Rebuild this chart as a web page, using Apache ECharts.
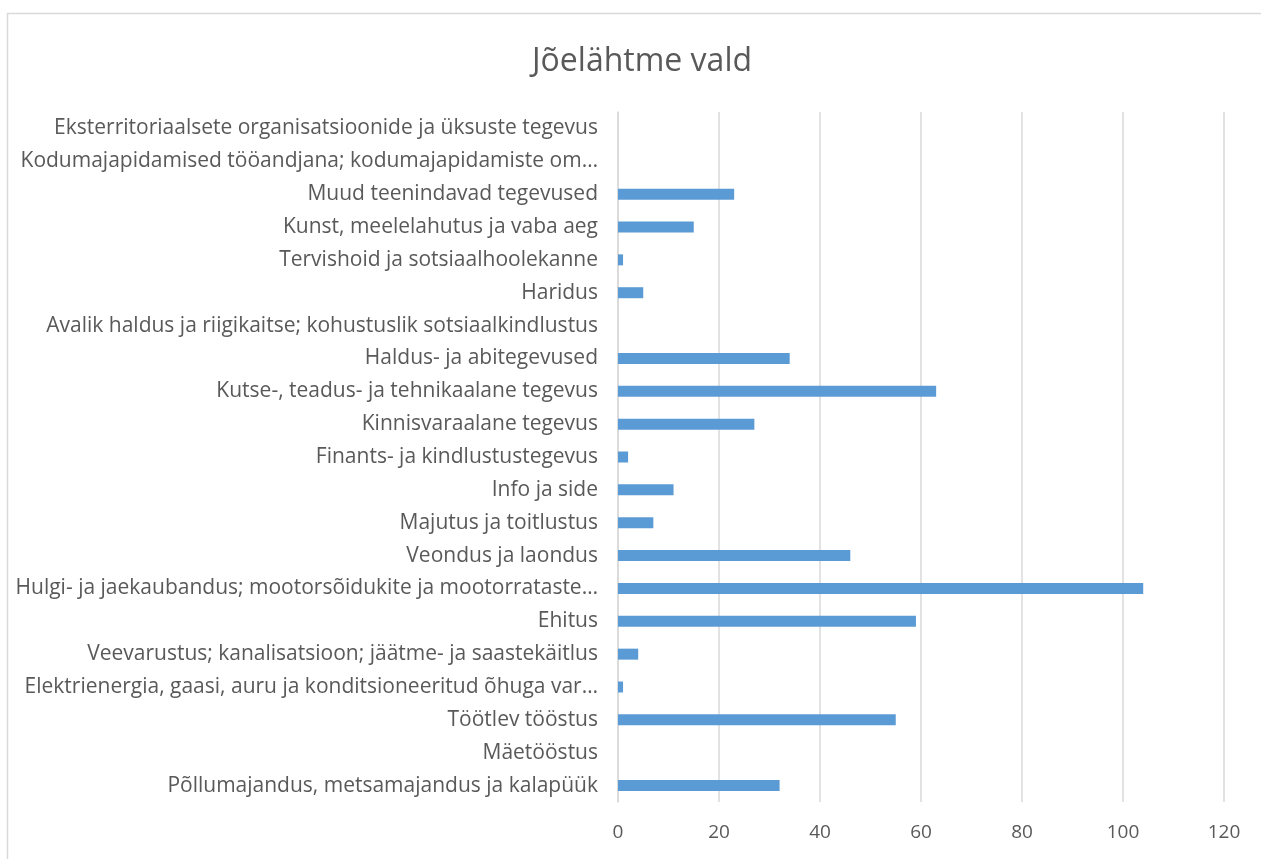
<!DOCTYPE html>
<html>
<head>
<meta charset="utf-8">
<script src="https://cdn.jsdelivr.net/npm/echarts@6/dist/echarts.min.js"></script>
<style>
  html, body { margin: 0; padding: 0; background: #fff; }
  #chart { width: 1261px; height: 859px; }
</style>
</head>
<body>
<div id="chart"></div>
<script>
// categories, bottom to top as drawn
var categories = [
  "Põllumajandus, metsamajandus ja kalapüük",
  "Mäetööstus",
  "Töötlev tööstus",
  "Elektrienergia, gaasi, auru ja konditsioneeritud õhuga varustamine",
  "Veevarustus; kanalisatsioon; jäätme- ja saastekäitlus",
  "Ehitus",
  "Hulgi- ja jaekaubandus; mootorsõidukite ja mootorrataste remont",
  "Veondus ja laondus",
  "Majutus ja toitlustus",
  "Info ja side",
  "Finants- ja kindlustustegevus",
  "Kinnisvaraalane tegevus",
  "Kutse-, teadus- ja tehnikaalane tegevus",
  "Haldus- ja abitegevused",
  "Avalik haldus ja riigikaitse; kohustuslik sotsiaalkindlustus",
  "Haridus",
  "Tervishoid ja sotsiaalhoolekanne",
  "Kunst, meelelahutus ja vaba aeg",
  "Muud teenindavad tegevused",
  "Kodumajapidamised tööandjana; kodumajapidamiste omatarbeks mõeldud tootmine",
  "Eksterritoriaalsete organisatsioonide ja üksuste tegevus"
];
var values = [32, 0, 55, 1, 4, 59, 104, 46, 7, 11, 2, 27, 63, 34, 0, 5, 1, 15, 23, 0, 0];
var xMin = 0, xMax = 120, xStep = 20;

var textColor = "#595959";
var gridColor = "#d9d9d9";
var font = "Open Sans";

var chart = echarts.init(document.getElementById("chart"));
chart.setOption({
  animation: false,
  title: {
    text: "Jõelähtme vald",
    left: 527,
    top: 41,
    textStyle: { color: textColor, fontSize: 32, fontWeight: "normal", fontFamily: font }
  },
  graphic: [{
    type: "rect",
    shape: { x: 7.5, y: 13.5, width: 1400, height: 1000 },
    style: { fill: "none", stroke: gridColor, lineWidth: 1.5 },
    silent: true
  }],
  grid: { left: 618, right: 37, top: 112, bottom: 57 },
  xAxis: {
    type: "value",
    min: xMin,
    max: xMax,
    interval: xStep,
    axisLine: { show: false },
    axisTick: { show: false },
    axisLabel: { color: textColor, fontSize: 19, fontFamily: font, margin: 21 },
    splitLine: { lineStyle: { color: gridColor, width: 1.5 } }
  },
  yAxis: {
    type: "category",
    data: categories,
    axisLine: { lineStyle: { color: gridColor, width: 1.5 } },
    axisTick: { show: false },
    axisLabel: {
      color: textColor,
      fontSize: 21,
      fontFamily: font,
      margin: 20,
      width: 585,
      overflow: "truncate",
      ellipsis: "…"
    }
  },
  series: [{
    type: "bar",
    data: values,
    barWidth: 11,
    itemStyle: { color: "#5b9bd5" }
  }]
});
</script>
</body>
</html>
